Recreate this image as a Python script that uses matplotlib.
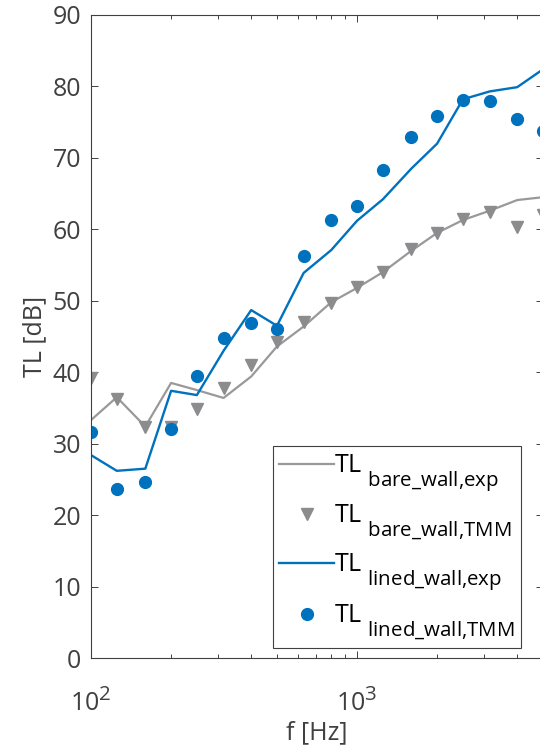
import numpy as np
import matplotlib
matplotlib.use("Agg")
import matplotlib.pyplot as plt
import matplotlib._mathtext as mtext
from matplotlib.ticker import LogLocator, FixedLocator, NullFormatter

# third-octave band centres
freq = [100, 125, 160, 200, 250, 315, 400, 500, 630, 800,
        1000, 1250, 1600, 2000, 2500, 3150, 4000, 5000]

# TL values [dB]
tl_bare_exp = [33.3, 36.5, 32.4, 38.5, 37.5, 36.4, 39.4, 43.6, 46.4, 49.8,
               51.8, 54.0, 57.0, 59.5, 61.3, 62.6, 64.1, 64.5]
tl_bare_tmm = [39.2, 36.3, 32.3, 32.3, 34.8, 37.8, 41.0, 44.3, 47.0, 49.7,
               51.9, 54.0, 57.2, 59.5, 61.5, 62.4, 60.3, 62.0]
tl_lined_exp = [28.4, 26.2, 26.5, 37.4, 36.8, 43.0, 48.7, 46.5, 53.9, 57.1,
                61.2, 64.2, 68.5, 72.0, 78.2, 79.3, 79.9, 82.4]
tl_lined_tmm = [31.7, 23.6, 24.6, 32.0, 39.5, 44.8, 46.9, 46.0, 56.3, 61.3,
                63.2, 68.3, 72.9, 75.9, 78.1, 78.0, 75.4, 73.7]

plt.rcParams["font.family"] = ["Open Sans", "DejaVu Sans"]
plt.rcParams["mathtext.fontset"] = "custom"
plt.rcParams["mathtext.rm"] = "Open Sans"
plt.rcParams["mathtext.it"] = "Open Sans"
plt.rcParams["mathtext.bf"] = "Open Sans"
# MATLAB-like deeper and larger subscripts
mtext.FontConstantsBase.sub1 = 1.0
mtext.FontConstantsBase.sub2 = 1.0
mtext.SHRINK_FACTOR = 0.82

grey = (0.6, 0.6, 0.6)
blue = "#0072BD"
dark = "#404040"

fig = plt.figure(figsize=(5.4, 7.46), dpi=100)
ax = fig.add_axes([91/540, 1 - 658/746, (543 - 91)/540, 643/746])

ax.plot(freq, tl_bare_exp, "-", color=grey, lw=1.6,
        label=r"TL $_{\mathrm{bare\_wall{,}exp}}$")
ax.plot(freq, tl_bare_tmm, "v", color=(0.55, 0.55, 0.56), ms=9, ls="none",
        label=r"TL $_{\mathrm{bare\_wall{,}TMM}}$")
ax.plot(freq, tl_lined_exp, "-", color=blue, lw=1.7,
        label=r"TL $_{\mathrm{lined\_wall{,}exp}}$")
ax.plot(freq, tl_lined_tmm, "o", color=blue, ms=8.5, ls="none",
        label=r"TL $_{\mathrm{lined\_wall{,}TMM}}$")

ax.set_xscale("log")
ax.set_xlim(100, 5000)
ax.set_ylim(0, 90)
ax.set_yticks(np.arange(0, 91, 10))
ax.xaxis.set_major_locator(FixedLocator([100, 1000]))
ax.xaxis.set_minor_locator(LogLocator(base=10, subs=np.arange(2, 10)))
ax.xaxis.set_minor_formatter(NullFormatter())

for s in ax.spines.values():
    s.set_color(dark)
    s.set_linewidth(0.8)
ax.tick_params(which="both", direction="in", top=True, right=True,
               colors=dark, labelcolor=dark, labelsize=18, width=0.7)
ax.tick_params(which="major", length=5)
ax.tick_params(which="minor", length=3)
ax.tick_params(axis="y", pad=7)
ax.tick_params(axis="x", pad=22)

ax.set_xlabel("f [Hz]", fontsize=18, color=dark, labelpad=2)
ax.set_ylabel("TL [dB]", fontsize=18, color=dark, labelpad=4)

leg = ax.legend(loc="lower left", bbox_to_anchor=(0.403, 0.0156), borderaxespad=0,
                fontsize=18, fancybox=False, framealpha=1, edgecolor=dark,
                handlelength=2.2, handletextpad=0.0, labelspacing=0.38,
                borderpad=0.25)
leg.get_frame().set_linewidth(0.8)

fig.savefig("out.png", dpi=100)
